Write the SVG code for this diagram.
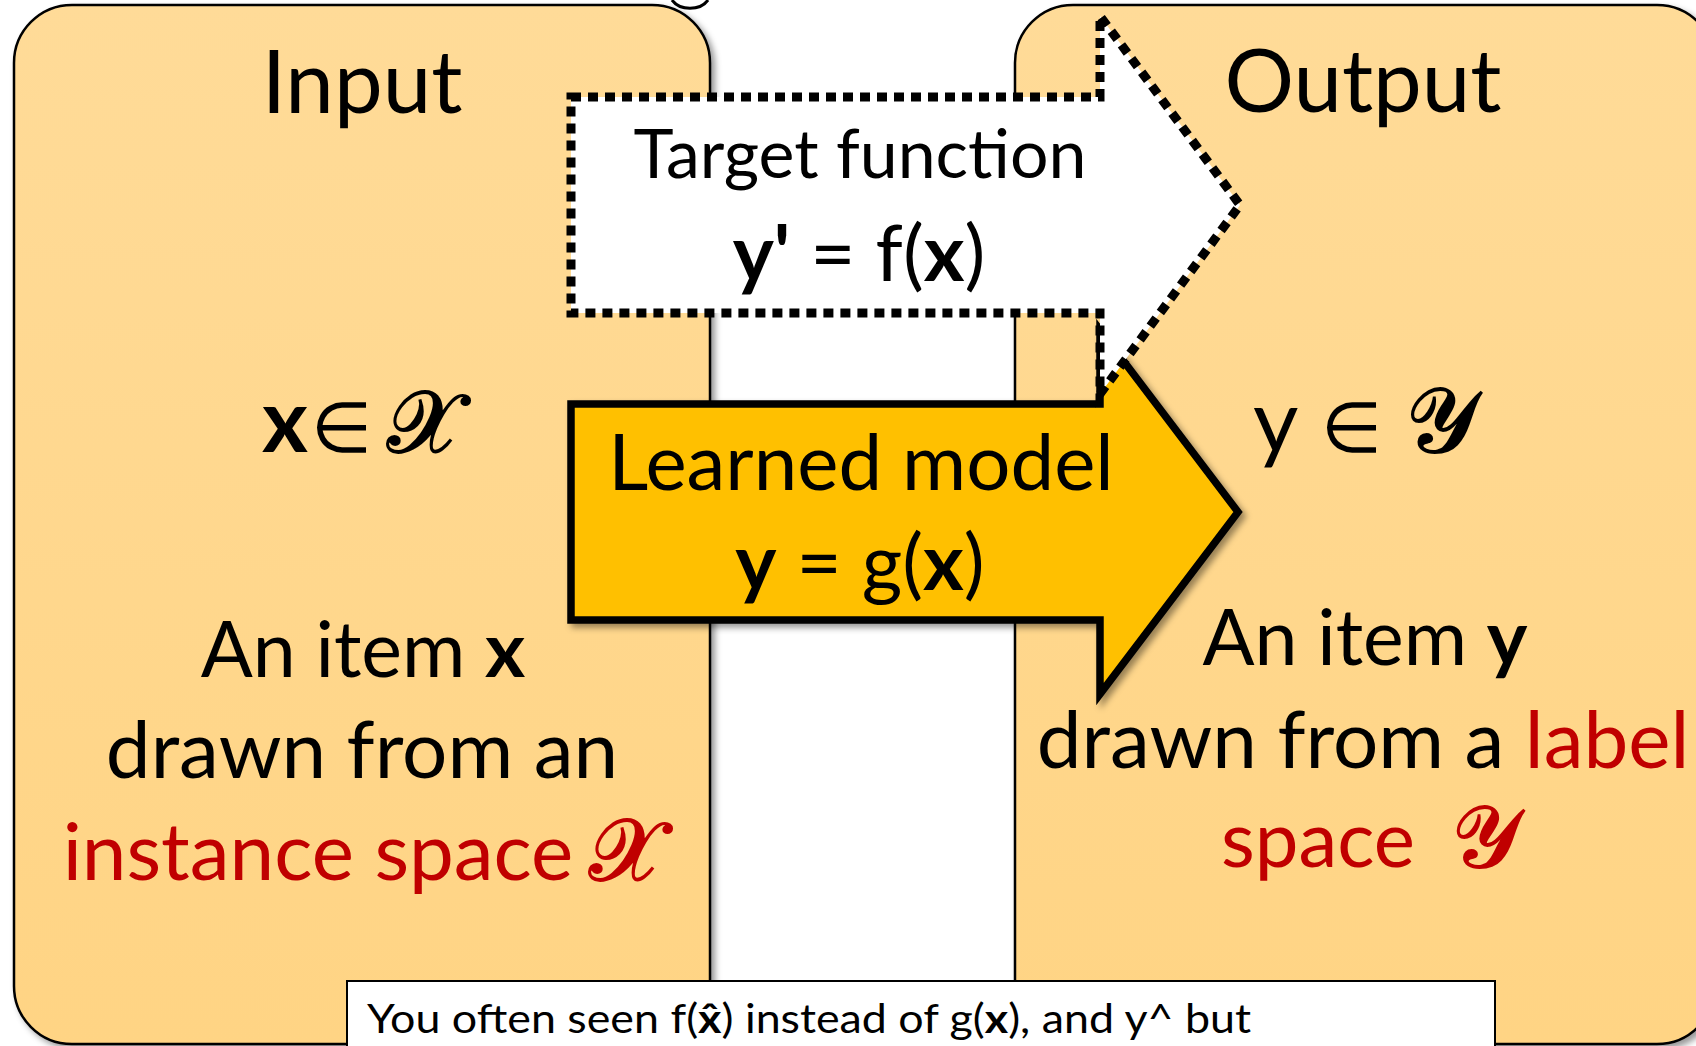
<svg xmlns="http://www.w3.org/2000/svg" width="1696" height="1046" viewBox="0 0 1696 1046">
<defs>
<linearGradient id="peach" x1="0" y1="0" x2="0" y2="1">
<stop offset="0" stop-color="#FFDB98"/>
<stop offset="1" stop-color="#FFD484"/>
</linearGradient>
<filter id="shadow" x="-10%" y="-10%" width="120%" height="120%">
<feDropShadow dx="4" dy="4" stdDeviation="3" flood-color="#000" flood-opacity="0.4"/>
</filter>
<style>
.box{fill:url(#peach);stroke:#000;stroke-width:2.5;filter:url(#shadow)}
.t{font-family:Lato,"Open Sans","Liberation Sans",sans-serif;fill:#000}
.red{fill:#C00000}
.b{font-weight:bold}
.m{text-anchor:middle}
.math{font-family:"DejaVu Serif","DejaVu Sans","Noto Sans",serif}
</style>
</defs>
<rect width="1696" height="1046" fill="#fff"/>
<path d="M 672 0 C 680 11, 700 11, 708 0" fill="none" stroke="#000" stroke-width="3"/>

<g id="node-input">
<rect class="box" x="14" y="5" width="696" height="1039" rx="58"/>
<text class="t m" x="362" y="113" font-size="87">Input</text>
<text class="t b" x="262" y="452" font-size="88">x</text>
<text class="t" x="311" y="452" font-size="70">∈</text>
<text class="t math" x="386" y="452" font-size="86">𝓧</text>
<text class="t m" x="363" y="677" font-size="77">An item <tspan class="b">x</tspan></text>
<text class="t m" x="362" y="778" font-size="80">drawn from an</text>
<text class="t m red" x="318" y="880" font-size="80">instance space</text>
<text class="t red math" x="588" y="880" font-size="86">𝓧</text>
</g>

<g id="node-output">
<rect class="box" x="1015" y="5" width="700" height="1039" rx="58"/>
<text class="t m" x="1363" y="112" font-size="87">Output</text>
<text class="t" x="1253" y="452" font-size="88">y</text>
<text class="t" x="1321" y="452" font-size="70">∈</text>
<text class="t math" x="1406" y="452" font-size="90">𝓨</text>
<text class="t m" x="1365" y="665" font-size="77">An item <tspan class="b">y</tspan></text>
<text class="t m" x="1363" y="768" font-size="80">drawn from a <tspan class="red">label</tspan></text>
<text class="t m red" x="1318" y="867" font-size="78">space</text>
<text class="t red math" x="1452" y="867" font-size="86">𝓨</text>
</g>

<g id="connectors">
<g id="learned-model">
<path d="M 571 404 L 1100 404 L 1100 330 L 1238 512 L 1100 694 L 1100 620 L 571 620 Z" fill="#FFC000" stroke="#000" stroke-width="7.5" stroke-miterlimit="10" filter="url(#shadow)"/>
<text class="t m" x="861" y="490" font-size="78">Learned model</text>
<text class="t m" x="860" y="590" font-size="78"><tspan class="b">y</tspan> = g(<tspan class="b">x</tspan>)</text>
</g>
<g id="target-function">
<path d="M 571 97 L 1100 97 L 1100 16 L 1240 205 L 1100 394 L 1100 313 L 571 313 Z" fill="#fff" stroke="#000" stroke-width="9" stroke-dasharray="10 7" stroke-miterlimit="10"/>
<text class="t m" x="860" y="178" font-size="68">Target function</text>
<text class="t m" x="859" y="281" font-size="78"><tspan class="b">y'</tspan> = f(<tspan class="b">x</tspan>)</text>
</g>
</g>

<g id="node-note">
<rect x="347" y="981" width="1148" height="80" fill="#fff" stroke="#000" stroke-width="2"/>
<text class="t" x="367" y="1033" font-size="40" textLength="884" lengthAdjust="spacingAndGlyphs">You often seen f(<tspan class="b">x̂</tspan>) instead of g(<tspan class="b">x</tspan>), and y^ but</text>
</g>
</svg>
